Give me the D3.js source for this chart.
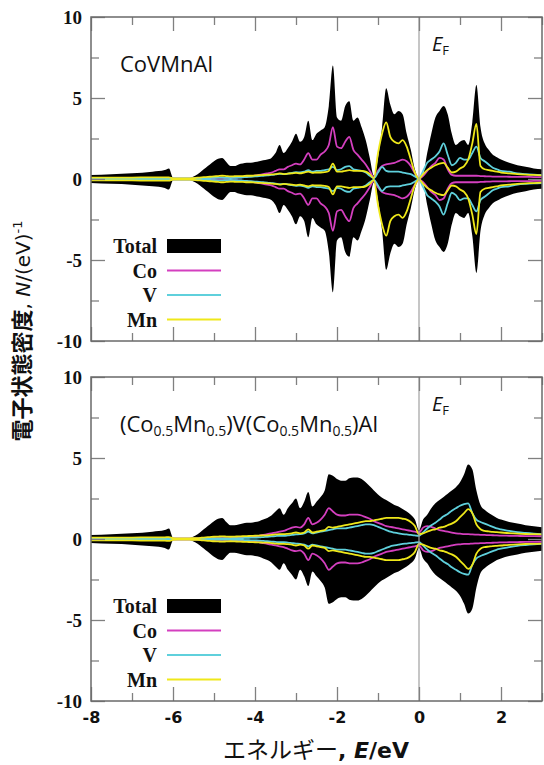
<!DOCTYPE html>
<html>
<head>
<meta charset="utf-8">
<script src="https://cdn.jsdelivr.net/npm/d3@7"></script>
<style>
  body { margin: 0; background: #fff; }
  svg { display: block; }
</style>
</head>
<body>
<div id="chart"></div>
<script>
// energy grid, eV (same for both panels)
const energy = [
  -8.0, -7.5, -7.0, -6.5, -6.2, -6.1, -6.0, -5.9, -5.8, -5.7, -5.6,
  -5.5, -5.4, -5.3, -5.2, -5.1, -5.0, -4.9, -4.8, -4.7, -4.6,
  -4.5, -4.4, -4.3, -4.2, -4.1, -4.0, -3.9, -3.8, -3.7, -3.6,
  -3.5, -3.4, -3.3, -3.2, -3.1, -3.0, -2.9, -2.8, -2.7, -2.6,
  -2.5, -2.4, -2.3, -2.2, -2.1, -2.0, -1.9, -1.8, -1.7, -1.6,
  -1.5, -1.4, -1.3, -1.2, -1.1, -1.0, -0.9, -0.8, -0.7, -0.6,
  -0.5, -0.4, -0.3, -0.2, -0.1, 0.0, 0.1, 0.2, 0.3, 0.4,
  0.5, 0.6, 0.7, 0.8, 0.9, 1.0, 1.1, 1.2, 1.3, 1.4,
  1.5, 1.6, 1.7, 1.8, 1.9, 2.0, 2.2, 2.4, 2.6, 2.8, 3.0
];

// CoVMnAl  (DOS per spin, drawn up and mirrored down)
const totalA = [
  0.25, 0.3, 0.35, 0.45, 0.55, 0.65, 0.08, 0.03, 0.02, 0.02, 0.05,
  0.15, 0.3, 0.5, 0.7, 0.9, 1.1, 1.25, 1.3, 1.05, 0.8,
  0.8, 0.9, 0.95, 1.0, 1.0, 1.05, 1.1, 1.15, 1.2, 1.3,
  1.6, 2.1, 1.6, 1.9, 2.3, 2.8, 2.3, 2.6, 3.6, 2.4,
  2.8, 3.0, 3.2, 4.5, 7.0, 3.8, 3.6, 4.5, 4.8, 3.6,
  3.8, 3.2, 2.4, 1.3, 0.2, 1.3, 3.2, 5.6, 4.6, 4.0,
  4.2, 4.0, 2.8, 1.8, 0.6, 0.05, 0.3, 1.6, 2.8, 3.8,
  4.2, 4.5, 4.0, 2.8, 2.1, 2.3, 2.4, 2.1, 3.5, 5.8,
  3.2, 2.2, 1.8, 1.5, 1.35, 1.2, 1.0, 0.85, 0.75, 0.65, 0.6
];
const coA = [
  0.03, 0.03, 0.03, 0.03, 0.03, 0.03, 0.03, 0.03, 0.03, 0.03, 0.03,
  0.03, 0.03, 0.04, 0.05, 0.05, 0.06, 0.07, 0.07, 0.07, 0.07,
  0.08, 0.1, 0.12, 0.15, 0.18, 0.2, 0.25, 0.3, 0.35, 0.4,
  0.5, 0.6, 0.6, 0.75, 0.85, 0.95, 0.9, 1.2, 1.6, 1.2,
  1.2, 1.5, 1.7, 2.1, 3.2, 2.0, 1.9, 2.3, 2.6, 1.8,
  1.5, 1.2, 0.9, 0.5, 0.1, 0.5, 0.8, 0.9, 0.95, 1.0,
  1.1, 1.2, 1.1, 0.8, 0.35, 0.03, 0.2, 0.5, 0.8, 1.0,
  1.3, 1.2, 0.6, 0.25, 0.2, 0.2, 0.2, 0.2, 0.2, 0.2,
  0.18, 0.17, 0.16, 0.15, 0.15, 0.15, 0.14, 0.13, 0.13, 0.12, 0.12
];
const vA = [
  0.03, 0.03, 0.03, 0.03, 0.03, 0.03, 0.03, 0.03, 0.03, 0.03, 0.03,
  0.03, 0.03, 0.04, 0.05, 0.06, 0.07, 0.08, 0.08, 0.07, 0.06,
  0.07, 0.08, 0.1, 0.12, 0.14, 0.16, 0.18, 0.2, 0.22, 0.25,
  0.28, 0.32, 0.3, 0.33, 0.38, 0.42, 0.4, 0.45, 0.55, 0.45,
  0.5, 0.5, 0.55, 0.6, 0.75, 0.55, 0.6, 0.75, 0.8, 0.6,
  0.55, 0.5, 0.4, 0.2, 0.05, 0.4, 0.75, 0.5, 0.45, 0.45,
  0.45, 0.4, 0.35, 0.3, 0.15, 0.03, 0.5, 1.0, 1.2, 1.4,
  1.7, 2.2, 1.5, 0.85, 1.0, 1.3, 1.2, 1.2, 1.6, 2.0,
  1.3, 1.1, 0.9, 0.7, 0.6, 0.5, 0.45, 0.35, 0.3, 0.27, 0.25
];
const mnA = [
  0.08, 0.08, 0.09, 0.1, 0.1, 0.1, 0.04, 0.03, 0.03, 0.03, 0.04,
  0.06, 0.08, 0.1, 0.12, 0.14, 0.16, 0.18, 0.2, 0.18, 0.16,
  0.17, 0.18, 0.18, 0.2, 0.2, 0.22, 0.24, 0.25, 0.27, 0.28,
  0.3, 0.35, 0.3, 0.33, 0.35, 0.38, 0.35, 0.4, 0.45, 0.38,
  0.4, 0.4, 0.42, 0.5, 0.95, 0.45, 0.45, 0.5, 0.55, 0.5,
  0.5, 0.5, 0.45, 0.3, 0.05, 1.6, 2.8, 3.5, 2.6, 2.3,
  2.2, 2.4, 2.0, 1.2, 0.4, 0.03, 0.3, 0.55, 0.7, 0.85,
  0.95, 1.0, 0.7, 0.4, 0.45, 0.65, 0.8, 1.2, 2.2, 3.4,
  0.8, 0.6, 0.55, 0.5, 0.45, 0.4, 0.35, 0.3, 0.27, 0.25, 0.22
];

// (Co0.5Mn0.5)V(Co0.5Mn0.5)Al
const totalB = [
  0.25, 0.3, 0.35, 0.45, 0.55, 0.65, 0.08, 0.03, 0.02, 0.02, 0.05,
  0.15, 0.3, 0.5, 0.7, 0.9, 1.1, 1.25, 1.3, 1.05, 0.85,
  0.85, 0.9, 0.95, 1.0, 1.0, 1.05, 1.1, 1.2, 1.3, 1.45,
  1.7, 1.9, 1.5, 1.9, 2.2, 2.5, 1.9, 2.3, 2.9, 2.0,
  2.3, 2.6, 3.0, 4.0, 3.9, 3.7, 3.6, 3.6, 3.75, 3.8,
  3.8, 3.7, 3.5, 3.25, 3.0, 2.75, 2.55, 2.4, 2.25, 2.1,
  2.0, 1.85, 1.7, 1.5, 1.2, 0.55, 1.2, 1.5, 1.9, 2.2,
  2.4, 2.6, 2.8, 3.0, 3.2, 3.5, 4.0, 4.6, 4.3, 3.0,
  2.1, 1.8, 1.6, 1.45, 1.3, 1.2, 1.05, 0.95, 0.85, 0.78, 0.72
];
const coB = [
  0.03, 0.03, 0.03, 0.03, 0.03, 0.03, 0.03, 0.03, 0.03, 0.03, 0.03,
  0.03, 0.03, 0.03, 0.04, 0.04, 0.05, 0.05, 0.06, 0.06, 0.06,
  0.07, 0.08, 0.1, 0.12, 0.14, 0.16, 0.2, 0.25, 0.3, 0.35,
  0.4, 0.45, 0.5, 0.6, 0.7, 0.75, 0.7, 0.9, 1.3, 0.9,
  1.0, 1.2, 1.5, 1.9, 1.7, 1.5, 1.45, 1.45, 1.5, 1.5,
  1.5, 1.45, 1.35, 1.25, 1.1, 1.0, 0.9, 0.8, 0.75, 0.7,
  0.65, 0.6, 0.55, 0.5, 0.45, 0.4, 0.7, 0.8, 0.75, 0.65,
  0.55, 0.5, 0.45, 0.4, 0.35, 0.33, 0.3, 0.3, 0.28, 0.27,
  0.26, 0.25, 0.24, 0.23, 0.22, 0.21, 0.2, 0.19, 0.18, 0.18, 0.17
];
const vB = [
  0.02, 0.02, 0.02, 0.02, 0.02, 0.02, 0.02, 0.02, 0.02, 0.02, 0.02,
  0.02, 0.02, 0.02, 0.03, 0.03, 0.03, 0.04, 0.04, 0.04, 0.04,
  0.05, 0.05, 0.06, 0.07, 0.08, 0.09, 0.1, 0.12, 0.14, 0.16,
  0.18, 0.2, 0.2, 0.22, 0.25, 0.28, 0.3, 0.35, 0.45, 0.35,
  0.4, 0.45, 0.5, 0.55, 0.6, 0.65, 0.65, 0.65, 0.7, 0.75,
  0.8, 0.85, 0.9, 0.9, 0.85, 0.75, 0.65, 0.55, 0.45, 0.4,
  0.35, 0.3, 0.28, 0.25, 0.22, 0.2, 0.4, 0.65, 0.85, 1.0,
  1.2, 1.4, 1.55, 1.75, 1.9, 2.05, 2.15, 2.2, 1.6, 1.2,
  1.05, 0.95, 0.85, 0.75, 0.65, 0.6, 0.5, 0.42, 0.37, 0.33, 0.3
];
const mnB = [
  0.08, 0.08, 0.09, 0.1, 0.1, 0.12, 0.05, 0.03, 0.03, 0.03, 0.04,
  0.05, 0.06, 0.08, 0.1, 0.12, 0.14, 0.15, 0.16, 0.15, 0.14,
  0.15, 0.16, 0.17, 0.18, 0.19, 0.2, 0.21, 0.22, 0.23, 0.25,
  0.28, 0.3, 0.3, 0.32, 0.35, 0.4, 0.35, 0.4, 0.6, 0.4,
  0.45, 0.5, 0.55, 0.75, 0.7, 0.75, 0.8, 0.85, 0.9, 0.95,
  1.0, 1.05, 1.1, 1.1, 1.15, 1.2, 1.25, 1.3, 1.3, 1.3,
  1.3, 1.25, 1.2, 1.05, 0.8, 0.3, 0.35, 0.45, 0.55, 0.6,
  0.7, 0.75, 0.85, 0.95, 1.1, 1.35, 1.6, 1.85, 1.6, 0.9,
  0.6, 0.5, 0.47, 0.44, 0.42, 0.4, 0.36, 0.33, 0.31, 0.3, 0.28
];

const legendNames = ["Total", "Co", "V", "Mn"];
const lineColors = {Co: "#d43fbf", V: "#5fd0dc", Mn: "#efe81a"};
const yMajor = [-10, -5, 0, 5, 10];
const yMinor = [-7.5, -2.5, 2.5, 7.5];
const xMajor = [-8, -6, -4, -2, 0, 2];
const xMinor = [-7, -5, -3, -1, 1, 3];

const width = 544, height = 765;
const plotL = 91, plotR = 542, panelH = 324;

const svg = d3.select("#chart").append("svg")
    .attr("width", width)
    .attr("height", height);

const x = d3.scaleLinear().domain([-8, 3]).range([plotL, plotR]);

function drawPanel(top, idx, total, series, labelFn, showX) {
    const y = d3.scaleLinear().domain([-10, 10]).range([top + panelH, top]);
    const g = svg.append("g");

    g.append("clipPath").attr("id", "clip" + idx)
        .append("rect")
        .attr("x", plotL).attr("y", top)
        .attr("width", plotR - plotL).attr("height", panelH);
    const plot = g.append("g").attr("clip-path", `url(#clip${idx})`);

    // total DOS, filled both spins
    const area = d3.area()
        .x((d, i) => x(energy[i]))
        .y0(d => y(-d))
        .y1(d => y(d))
        .curve(d3.curveMonotoneX);
    plot.append("path").datum(total)
        .attr("d", area)
        .attr("fill", "#000");

    // partial DOS
    ["Co", "V", "Mn"].forEach(name => {
        [1, -1].forEach(sgn => {
            const line = d3.line()
                .x((d, i) => x(energy[i]))
                .y(d => y(sgn * d))
                .curve(d3.curveMonotoneX);
            plot.append("path").datum(series[name])
                .attr("d", line)
                .attr("fill", "none")
                .attr("stroke", lineColors[name])
                .attr("stroke-width", 1.8);
        });
    });

    // Fermi level
    g.append("line")
        .attr("x1", x(0)).attr("x2", x(0))
        .attr("y1", top).attr("y2", top + panelH)
        .attr("stroke", "#a0a0a0").attr("stroke-width", 1.2);

    // axes, ticks pointing inward on all sides
    const tickStyle = sel => {
        sel.select(".domain").remove();
        sel.selectAll(".tick line").attr("stroke", "#808080").attr("stroke-width", 1.3);
    };
    g.append("g").attr("transform", `translate(${plotL},0)`)
        .call(d3.axisLeft(y).tickValues(yMinor).tickSize(-8).tickFormat(""))
        .call(tickStyle);
    g.append("g").attr("transform", `translate(${plotR},0)`)
        .call(d3.axisRight(y).tickValues(yMinor).tickSize(-8).tickFormat(""))
        .call(tickStyle);
    g.append("g").attr("transform", `translate(${plotR},0)`)
        .call(d3.axisRight(y).tickValues(yMajor).tickSize(-14).tickFormat(""))
        .call(tickStyle);
    const yAx = g.append("g").attr("transform", `translate(${plotL},0)`)
        .call(d3.axisLeft(y).tickValues(yMajor).tickSizeInner(-14).tickSizeOuter(0)
            .tickPadding(9).tickFormat(d => String(d)))
        .call(tickStyle);
    yAx.selectAll("text")
        .attr("font-family", "'Liberation Serif', serif")
        .attr("font-weight", "bold")
        .attr("font-size", 19)
        .attr("fill", "#111");

    g.append("g").attr("transform", `translate(0,${top})`)
        .call(d3.axisTop(x).tickValues(xMinor).tickSize(-8).tickFormat(""))
        .call(tickStyle);
    g.append("g").attr("transform", `translate(0,${top})`)
        .call(d3.axisTop(x).tickValues(xMajor).tickSize(-14).tickFormat(""))
        .call(tickStyle);
    g.append("g").attr("transform", `translate(0,${top + panelH})`)
        .call(d3.axisBottom(x).tickValues(xMinor).tickSize(-8).tickFormat(""))
        .call(tickStyle);
    const xAx = g.append("g").attr("transform", `translate(0,${top + panelH})`)
        .call(d3.axisBottom(x).tickValues(xMajor).tickSizeInner(-14).tickSizeOuter(0)
            .tickPadding(11).tickFormat(d => showX ? String(d) : ""))
        .call(tickStyle);
    xAx.selectAll("text")
        .attr("font-family", "'DejaVu Sans', sans-serif")
        .attr("font-weight", "bold")
        .attr("font-size", 16)
        .attr("fill", "#111");

    // frame
    g.append("rect")
        .attr("x", plotL).attr("y", top)
        .attr("width", plotR - plotL).attr("height", panelH)
        .attr("fill", "none")
        .attr("stroke", "#6a6a6a").attr("stroke-width", 1.5);

    // compound label
    const lab = g.append("text")
        .attr("x", 120).attr("y", top + 55)
        .attr("font-family", "'Open Sans', sans-serif")
        .attr("font-size", 22)
        .attr("fill", "#111");
    labelFn(lab);

    // E_F
    const ef = g.append("text")
        .attr("x", 432).attr("y", top + 34)
        .attr("font-family", "'Open Sans', sans-serif")
        .attr("fill", "#111");
    ef.append("tspan").attr("font-size", 20).attr("font-style", "italic").text("E");
    ef.append("tspan").attr("font-size", 13).attr("dy", 4).text("F");

    // legend
    const lg = g.append("g");
    legendNames.forEach((name, i) => {
        const ly = top + 229 + i * 24.5;
        lg.append("text")
            .attr("x", 157).attr("y", ly + 7)
            .attr("text-anchor", "end")
            .attr("font-family", "'Liberation Serif', serif")
            .attr("font-weight", "bold")
            .attr("font-size", 20)
            .attr("fill", "#111")
            .text(name);
        if (name === "Total") {
            lg.append("rect")
                .attr("x", 167).attr("y", ly - 7)
                .attr("width", 54).attr("height", 14)
                .attr("fill", "#000");
        } else {
            lg.append("line")
                .attr("x1", 167).attr("x2", 221)
                .attr("y1", ly).attr("y2", ly)
                .attr("stroke", lineColors[name])
                .attr("stroke-width", 2);
        }
    });
}

drawPanel(17, 0, totalA, {Co: coA, V: vA, Mn: mnA}, t => {
    t.text("CoVMnAl");
}, false);

drawPanel(377, 1, totalB, {Co: coB, V: vB, Mn: mnB}, t => {
    const parts = [["(Co", 0], ["0.5", 1], ["Mn", 0], ["0.5", 1], [")V(Co", 0],
                   ["0.5", 1], ["Mn", 0], ["0.5", 1], [")Al", 0]];
    let prev = 0;
    parts.forEach(([s, sub]) => {
        t.append("tspan")
            .attr("font-size", sub ? 14 : 22)
            .attr("dy", sub ? 4 - prev : (prev ? -4 : 0))
            .text(s);
        prev = sub ? 4 : 0;
    });
}, true);

// axis titles
const xt = svg.append("text")
    .attr("x", 316).attr("y", 758)
    .attr("text-anchor", "middle")
    .attr("fill", "#111");
xt.append("tspan").attr("font-family", "'Noto Sans CJK JP', sans-serif")
    .attr("font-size", 23).text("エネルギー");
xt.append("tspan").attr("font-family", "'DejaVu Sans', sans-serif")
    .attr("font-weight", "bold").attr("font-size", 22).text(", ");
xt.append("tspan").attr("font-family", "'DejaVu Sans', sans-serif")
    .attr("font-weight", "bold").attr("font-style", "italic").attr("font-size", 22).text("E");
xt.append("tspan").attr("font-family", "'DejaVu Sans', sans-serif")
    .attr("font-weight", "bold").attr("font-size", 22).text("/eV");

const yt = svg.append("text")
    .attr("transform", "translate(30,331) rotate(-90)")
    .attr("text-anchor", "middle")
    .attr("fill", "#111");
yt.append("tspan").attr("font-family", "'Noto Sans CJK JP', sans-serif")
    .attr("font-weight", "bold").attr("font-size", 22).text("電子状態密度");
yt.append("tspan").attr("font-family", "'DejaVu Sans', sans-serif")
    .attr("font-size", 20).text(", ");
yt.append("tspan").attr("font-family", "'DejaVu Sans', sans-serif")
    .attr("font-style", "italic").attr("font-size", 20).text("N");
yt.append("tspan").attr("font-family", "'DejaVu Sans', sans-serif")
    .attr("font-size", 20).text("/(eV)");
yt.append("tspan").attr("font-family", "'DejaVu Sans', sans-serif")
    .attr("font-size", 13).attr("dy", -8).text("-1");
</script>
</body>
</html>
